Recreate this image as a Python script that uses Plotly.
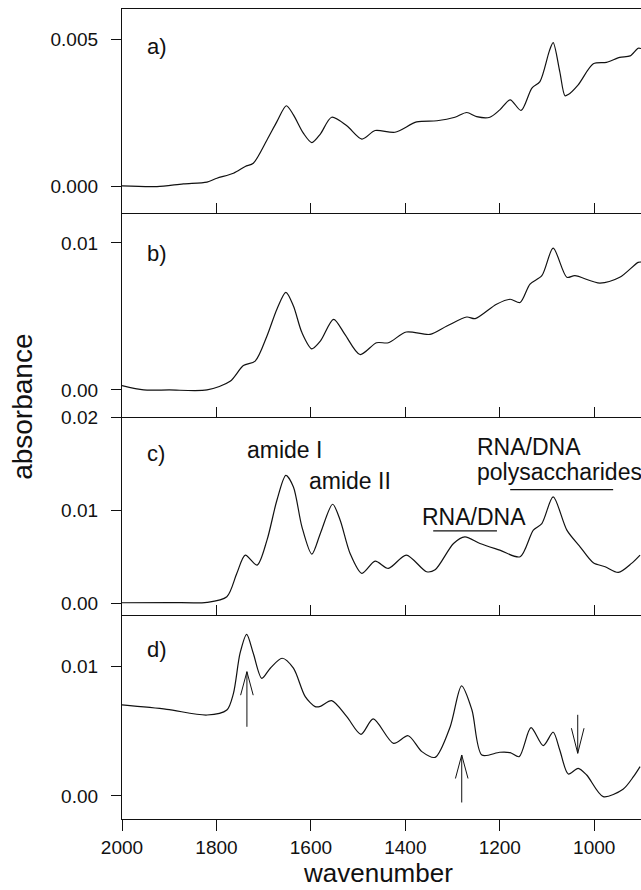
import plotly.graph_objects as go

# ---------------- data ----------------
wn_a = [2000, 1926, 1870, 1820, 1799, 1764, 1739, 1722, 1693, 1672, 1652, 1637, 1616, 1598,
        1580, 1556, 1524, 1492, 1464, 1422, 1376, 1333, 1295, 1270, 1249, 1221, 1200, 1178,
        1155, 1132, 1115, 1095, 1087, 1073, 1062, 1055, 1034, 1002, 974, 946, 924, 907, 901]
abs_a = [0.00002, 0.0, 0.00009, 0.00015, 0.00028, 0.00045, 0.00068, 0.00079, 0.00158, 0.0022,
         0.00274, 0.00243, 0.00181, 0.00149, 0.00178, 0.00235, 0.00206, 0.00161, 0.0019,
         0.00184, 0.00219, 0.00223, 0.00235, 0.00251, 0.00237, 0.00235, 0.0026, 0.00294,
         0.00258, 0.00334, 0.00356, 0.0046, 0.00488, 0.0039, 0.00308, 0.00312, 0.00345,
         0.00416, 0.00421, 0.00438, 0.00443, 0.00469, 0.00468]

wn_b = [2000, 1954, 1900, 1820, 1771, 1743, 1718, 1693, 1672, 1653, 1637, 1619, 1598, 1580,
        1552, 1528, 1496, 1461, 1436, 1398, 1348, 1312, 1270, 1252, 1207, 1178, 1157, 1136,
        1111, 1087, 1058, 1041, 988, 946, 907, 901]
abs_b = [0.00029, 0.0, 0.0, 0.0, 0.00059, 0.00166, 0.00196, 0.00367, 0.00549, 0.00663,
         0.00571, 0.0039, 0.0028, 0.00332, 0.0048, 0.00378, 0.00241, 0.00321, 0.00321,
         0.00394, 0.00378, 0.00435, 0.00496, 0.00485, 0.00583, 0.00617, 0.00595, 0.0072,
         0.00777, 0.00964, 0.00766, 0.00777, 0.00727, 0.00766, 0.00868, 0.0087]

wn_c = [2000, 1900, 1820, 1778, 1757, 1739, 1714, 1693, 1672, 1653, 1637, 1619, 1598, 1580,
        1554, 1538, 1517, 1492, 1464, 1436, 1398, 1355, 1337, 1298, 1274, 1242, 1200, 1157,
        1129, 1111, 1087, 1058, 1030, 1002, 977, 949, 921, 903]
abs_c = [0.00006, 0.00008, 0.0001, 0.0007, 0.0032, 0.00518, 0.0041, 0.00678, 0.01107,
         0.01375, 0.0125, 0.00821, 0.00528, 0.0075, 0.01064, 0.00893, 0.00536, 0.00322,
         0.00453, 0.00375, 0.00518, 0.00339, 0.0036, 0.00643, 0.00714, 0.00643, 0.00571,
         0.005, 0.00786, 0.00857, 0.01143, 0.00786, 0.00607, 0.00435, 0.00393, 0.00332,
         0.00429, 0.00518]

wn_d = [2000, 1905, 1820, 1778, 1764, 1750, 1736, 1722, 1704, 1686, 1661, 1637, 1612, 1591,
        1580, 1556, 1524, 1494, 1468, 1425, 1394, 1365, 1337, 1305, 1281, 1259, 1238, 1200,
        1178, 1159, 1134, 1108, 1087, 1073, 1055, 1034, 1016, 981, 939, 917, 903]
abs_d = [0.00704, 0.0067, 0.00626, 0.00665, 0.00794, 0.01104, 0.0125, 0.01104, 0.0091,
         0.00988, 0.01065, 0.00988, 0.00768, 0.00691, 0.00693, 0.00737, 0.00613, 0.00477,
         0.00596, 0.00407, 0.00466, 0.00343, 0.00299, 0.00536, 0.00851, 0.00665, 0.00317,
         0.00338, 0.00335, 0.00304, 0.00528, 0.00389, 0.00493, 0.00356, 0.0017, 0.00214,
         0.00162, -0.00005, 0.00052, 0.00149, 0.00227]

panel_labels = ["a)", "b)", "c)", "d)"]
x_ticks = [2000, 1800, 1600, 1400, 1200, 1000]
x_ticktext = ["2000", "1800", "1600", "1400", "1200", "1000"]
y_ticks_a = [0.0, 0.005]
y_ticktext_a = ["0.000", "0.005"]
y_ticks_b = [0.0, 0.01]
y_ticktext_b = ["0.00", "0.01"]
y_ticks_c = [0.0, 0.01, 0.02]
y_ticktext_c = ["0.00", "0.01", "0.02"]
y_ticks_d = [0.0, 0.01]
y_ticktext_d = ["0.00", "0.01"]

# ---------------- layout helpers ----------------
W, H = 641, 890
L, R, T, B = 122, 0, 9.3, 71
PW, PH = W - L - R, H - T - B
FONT = "Liberation Sans, Arial, Helvetica, sans-serif"
INK = "#111111"


def px(x):
    """screen pixel x -> paper x"""
    return (x - L) / PW


def py(y):
    """screen pixel y -> paper y"""
    return (T + PH - y) / PH


fig = go.Figure()
series = [(wn_a, abs_a), (wn_b, abs_b), (wn_c, abs_c), (wn_d, abs_d)]
for i, (xs, ys) in enumerate(series):
    sfx = "" if i == 0 else str(i + 1)
    fig.add_trace(go.Scatter(x=xs, y=ys, mode="lines", xaxis="x" + sfx, yaxis="y" + sfx,
                             line=dict(color=INK, width=1.2, shape="spline", smoothing=0.8),
                             showlegend=False, hoverinfo="skip"))

domains = [[py(213), 1.0], [py(417.3), py(213)], [py(615), py(417.3)], [0.0, py(615)]]
yranges = [[-0.00089, 0.00602], [-0.00185, 0.01205], [-0.00125, 0.02], [-0.00178, 0.0140]]
yticks = [(y_ticks_a, y_ticktext_a), (y_ticks_b, y_ticktext_b),
          (y_ticks_c, y_ticktext_c), (y_ticks_d, y_ticktext_d)]

layout = dict(width=W, height=H, margin=dict(l=L, r=R, t=T, b=B, autoexpand=False),
              paper_bgcolor="white", plot_bgcolor="white",
              font=dict(family=FONT, color=INK))

for i in range(4):
    sfx = "" if i == 0 else str(i + 1)
    last = i == 3
    layout["xaxis" + sfx] = dict(
        domain=[0, 1], range=[2000, 901], anchor="y" + sfx,
        showline=True, linecolor=INK, linewidth=1.3, mirror=(i == 0),
        showgrid=False, zeroline=False,
        tickmode="array", tickvals=x_ticks if last else x_ticks[1:],
        ticktext=x_ticktext if last else x_ticktext[1:],
        ticks="outside" if last else "inside", ticklen=11 if last else 10,
        tickwidth=1, tickcolor=INK, ticklabelstandoff=0,
        showticklabels=last, tickfont=dict(size=19, family=FONT, color=INK),
        matches=None if i == 0 else "x",
    )
    tv, tt = yticks[i]
    layout["yaxis" + sfx] = dict(
        domain=domains[i], range=yranges[i], anchor="x" + sfx,
        showline=True, linecolor=INK, linewidth=1.3, showgrid=False, zeroline=False,
        tickmode="array", tickvals=tv, ticktext=tt, ticks="outside", ticklen=10,
        tickwidth=1, tickcolor=INK, ticklabelstandoff=9,
        tickfont=dict(size=19, family=FONT, color=INK),
    )

fig.update_layout(**layout)

ann = []
# panel labels
label_pos = [46.7, 253.3, 453.3, 650]
for lab, ypix in zip(panel_labels, label_pos):
    ann.append(dict(xref="paper", yref="paper", x=px(145), y=py(ypix), text=lab,
                    showarrow=False, xanchor="left", yanchor="middle",
                    font=dict(size=22, family=FONT, color=INK)))

# axis titles
ann.append(dict(xref="paper", yref="paper", x=px(23), y=py(407), text="absorbance",
                textangle=-90, showarrow=False, xanchor="center", yanchor="middle",
                font=dict(size=28, family=FONT, color=INK)))
ann.append(dict(xref="paper", yref="paper", x=px(378), y=py(889.5), text="wavenumber",
                showarrow=False, xanchor="center", yanchor="bottom",
                font=dict(size=26, family=FONT, color=INK)))

# band annotations in panel c
band_text = [("amide I", 245, 450), ("amide II", 307, 481),
             ("RNA/DNA", 420, 517), ("RNA/DNA", 475, 447),
             ("polysaccharides", 475, 472)]
for t, xp_, yp_ in band_text:
    ann.append(dict(xref="paper", yref="paper", x=px(xp_), y=py(yp_), text=t,
                    showarrow=False, xanchor="left", yanchor="middle",
                    font=dict(size=23, family=FONT, color=INK)))

# arrows in panel d (tip position, shaft length in px, barb length in px)
arrows = [(1735.5, 0.00961, 56.6, 25), (1280.6, 0.00317, 49, 25), (1035, 0.00330, -40, -26.6)]
for xw, yv, shaft, barb in arrows:
    for axp, ayp in [(0, shaft), (-6.7, barb), (6.7, barb)]:
        ann.append(dict(xref="x4", yref="y4", x=xw, y=yv, text="", showarrow=True,
                        arrowhead=0, arrowwidth=1, arrowcolor=INK, ax=axp, ay=ayp,
                        axref="pixel", ayref="pixel", standoff=0, startstandoff=0))

fig.update_layout(annotations=ann)

# underline bars in panel c
fig.add_shape(type="line", xref="x3", yref="y3", x0=1341, x1=1206, y0=0.00778, y1=0.00778,
              line=dict(color=INK, width=1.3))
fig.add_shape(type="line", xref="x3", yref="y3", x0=1178, x1=960, y0=0.01222, y1=0.01222,
              line=dict(color=INK, width=1.3))

fig.write_html(
    "out.html",
    config={"displayModeBar": False},
    post_script="document.body.style.margin='0';"
                "document.documentElement.style.overflow='hidden';"
                "document.body.style.overflow='hidden';",
)
